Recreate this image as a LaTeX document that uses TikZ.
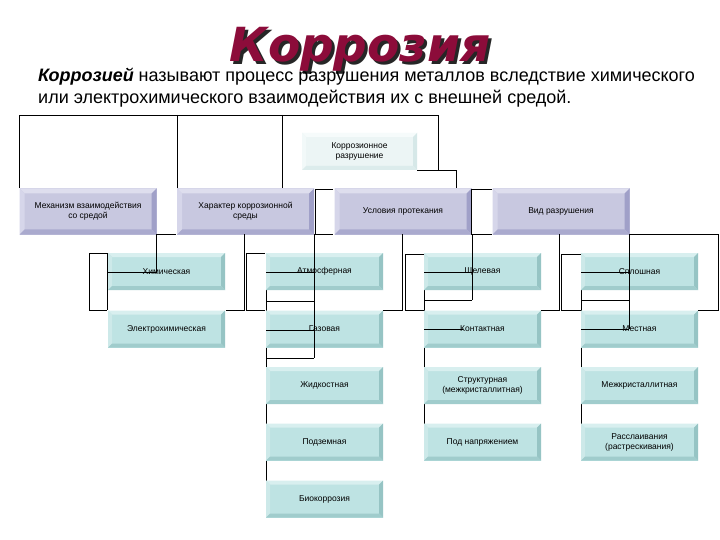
\documentclass[tikz,border=0pt]{standalone}
\usepackage{fontspec}
\setmainfont{Liberation Sans}
\newfontfamily\titlefont{DejaVu Sans}
\definecolor{titlered}{RGB}{140,12,58}
\definecolor{tfill}{RGB}{190,227,227}
\definecolor{ttop}{RGB}{216,239,239}
\definecolor{tleft}{RGB}{205,233,233}
\definecolor{tright}{RGB}{150,196,196}
\definecolor{tbot}{RGB}{160,204,204}
\definecolor{lfill}{RGB}{200,200,224}
\definecolor{ltop}{RGB}{222,222,238}
\definecolor{lleft}{RGB}{214,214,234}
\definecolor{lright}{RGB}{160,160,200}
\definecolor{lbot}{RGB}{170,170,206}
\definecolor{rfill}{RGB}{236,245,245}
\definecolor{rtop}{RGB}{246,251,251}
\definecolor{rleft}{RGB}{242,249,249}
\definecolor{rright}{RGB}{214,232,232}
\definecolor{rbot}{RGB}{220,236,236}
\tikzset{
  bevel/.style n args={6}{fill=#1, draw=none, inner sep=1pt, align=center,
    font=\fontsize{8.5}{10}\selectfont,
    path picture={
      \def\bw{#6}
      \path (path picture bounding box.north west) coordinate (pNW)
            (path picture bounding box.north east) coordinate (pNE)
            (path picture bounding box.south west) coordinate (pSW)
            (path picture bounding box.south east) coordinate (pSE);
      \fill[#2] (pNW) -- (pNE) -- ([shift={(-\bw,-\bw)}]pNE) -- ([shift={(\bw,-\bw)}]pNW) -- cycle;
      \fill[#3] (pNW) -- (pSW) -- ([shift={(\bw,\bw)}]pSW) -- ([shift={(\bw,-\bw)}]pNW) -- cycle;
      \fill[#4] (pNE) -- (pSE) -- ([shift={(-\bw,\bw)}]pSE) -- ([shift={(-\bw,-\bw)}]pNE) -- cycle;
      \fill[#5] (pSW) -- (pSE) -- ([shift={(-\bw,\bw)}]pSE) -- ([shift={(\bw,\bw)}]pSW) -- cycle;
    }},
  leaf/.style={bevel={tfill}{ttop}{tleft}{tright}{tbot}{4pt}, minimum width=117pt, minimum height=37pt},
  mid/.style={bevel={lfill}{ltop}{lleft}{lright}{lbot}{5pt}, minimum width=137pt, minimum height=46pt},
  rootbox/.style={bevel={rfill}{rtop}{rleft}{rright}{rbot}{4pt}, minimum width=115pt, minimum height=37pt},
  conn/.style={line width=0.8pt, black},
}
\begin{document}
\begin{tikzpicture}[x=1pt,y=-1pt]
\useasboundingbox[fill=white] (0,0) rectangle (720,540);

% title
\node[anchor=base, text=black!85, font=\titlefont\bfseries\itshape\fontsize{47}{50}\selectfont] (titleshadow) at (363,65) {Коррозия};
\node[anchor=base, text=titlered, font=\titlefont\bfseries\itshape\fontsize{47}{50}\selectfont] (title) at (360,62) {Коррозия};

\node[anchor=base west, inner sep=0, font=\fontsize{18}{20}\selectfont] (def1) at (38,82) {\textbf{\textit{Коррозией}} называют процесс разрушения металлов вследствие химического};
\node[anchor=base west, inner sep=0, font=\fontsize{18}{20}\selectfont] (def2) at (38,104) {или электрохимического взаимодействия их с внешней средой.};

% lines behind boxes
\draw[conn] (107,253) -- (107,310);
\draw[conn] (266,253) -- (266,484);
\draw[conn] (424,254) -- (424,427);
\draw[conn] (581,254) -- (581,427);

% root
\node[rootbox] (root) at (359.5,151.5) {Коррозионное\\разрушение};

% level 2
\node[mid] (mech) at (88,211.5) {Механизм взаимодействия\\со средой};
\node[mid] (char) at (245.5,211.5) {Характер коррозионной\\среды};
\node[mid] (cond) at (403,211.5) {Условия протекания};
\node[mid] (kind) at (561,211.5) {Вид разрушения};

% level 3
\node[leaf] (c11) at (166.5,271.5) {Химическая};
\node[leaf] (c12) at (166.5,329) {Электрохимическая};
\node[leaf] (c21) at (324.5,271.5) {Атмосферная};
\node[leaf] (c22) at (324.5,329) {Газовая};
\node[leaf] (c23) at (324.5,385.5) {Жидкостная};
\node[leaf] (c24) at (324.5,442) {Подземная};
\node[leaf] (c25) at (324.5,499) {Биокоррозия};
\node[leaf] (c31) at (482.5,271.5) {Щелевая};
\node[leaf] (c32) at (482.5,329) {Контактная};
\node[leaf] (c33) at (482.5,385.5) {Структурная\\(межкристаллитная)};
\node[leaf] (c34) at (482.5,442) {Под напряжением};
\node[leaf] (c41) at (639.5,271.5) {Сплошная};
\node[leaf] (c42) at (639.5,329) {Местная};
\node[leaf] (c43) at (639.5,385.5) {Межкристаллитная};
\node[leaf] (c44) at (639.5,442) {Расслаивания\\(растрескивания)};

% top connectors
\draw[conn] (19,188) -- (19,115) -- (438,115) -- (438,170);
\draw[conn] (417,170) -- (456,170) -- (456,188);
\draw[conn] (177,115) -- (177,188);
\draw[conn] (282,115) -- (282,188);

% level-2 brackets
\draw[conn] (333,189) -- (315,189) -- (315,234) -- (333,234);
\draw[conn] (492,189) -- (471,189) -- (471,234) -- (492,234);
\draw[conn] (156,234) -- (176,234);
\draw[conn] (629,234) -- (718,234) -- (718,310) -- (698,310);

% column 1
\draw[conn] (156,234) -- (156,272) -- (107,272);
\draw[conn] (107,253) -- (89,253) -- (89,310) -- (107,310);
\draw[conn] (244,234) -- (244,310) -- (226,310);

% column 2
\draw[conn] (314,234) -- (314,358);
\foreach \yy in {272,301,330,358} \draw[conn] (266,\yy) -- (314,\yy);
\draw[conn] (265,253) -- (246,253) -- (246,310) -- (265,310);
\draw[conn] (402,234) -- (402,310) -- (383,310);

% column 3
\draw[conn] (472,234) -- (472,300);
\draw[conn] (424,272) -- (472,272);
\draw[conn] (424,300) -- (472,300);
\draw[conn] (424,329) -- (463,329);
\draw[conn] (424,254) -- (405,254) -- (405,310) -- (424,310);
\draw[conn] (559,234) -- (559,310) -- (541,310);

% column 4
\draw[conn] (629,234) -- (629,329);
\foreach \yy in {272,300,329} \draw[conn] (581,\yy) -- (629,\yy);
\draw[conn] (581,254) -- (561,254) -- (561,310) -- (581,310);
\end{tikzpicture}
\end{document}
